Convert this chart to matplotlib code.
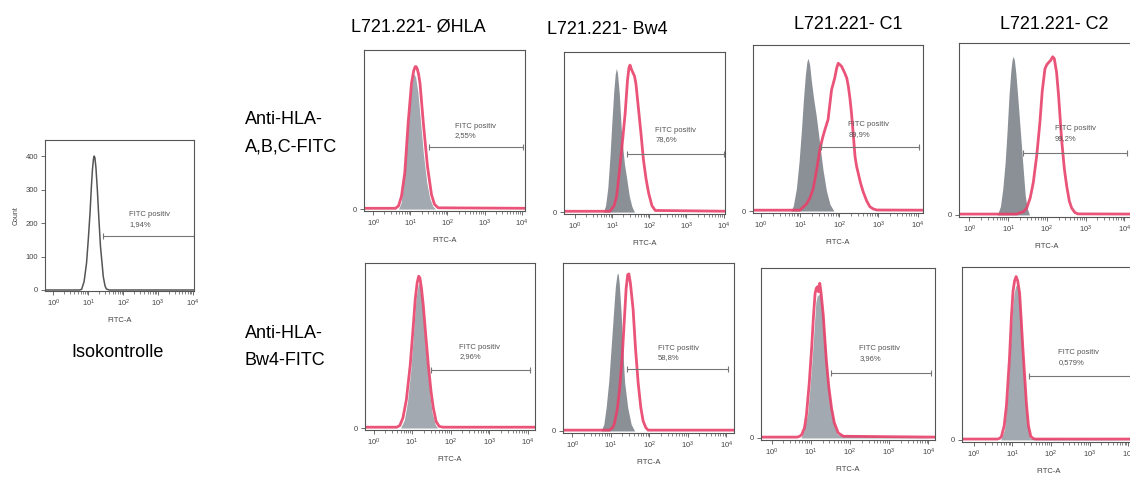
import numpy as np
import matplotlib.pyplot as plt
from matplotlib import font_manager
from matplotlib.ticker import FixedLocator, NullFormatter

# ---- text ----
col_titles = ["L721.221- ØHLA", "L721.221- Bw4", "L721.221- C1", "L721.221- C2"]
row_labels = [["Anti-HLA-", "A,B,C-FITC"], ["Anti-HLA-", "Bw4-FITC"]]
iso_title = "Isokontrolle"
gate_text = "FITC positiv"
gate_pcts = [["2,55%", "78,6%", "89,9%", "99,2%"],
             ["2,96%", "58,8%", "3,96%", "0,579%"]]

# ---- isotype control histogram (log10 FITC, count) ----
iso_log = [-0.3, 0.75, 0.81, 0.88, 0.95, 1.0, 1.05, 1.09, 1.12, 1.15, 1.17, 1.19, 1.22,
           1.26, 1.3, 1.35, 1.43, 1.48, 1.52, 1.6, 4.1]
iso_cnt = [0, 0, 2, 25, 80, 150, 229, 310, 360, 392, 400, 395, 365,
           300, 220, 130, 40, 12, 3, 0, 0]
iso_gate = (1.43, 4.02, 161)
iso_ticks = [0, 100, 200, 300, 400]

# ---- stained panels: grey = unstained control, red = antibody (% of scale) ----
grey_log = [
    [[-0.3, 0.68, 0.75, 0.81, 0.88, 0.95, 1.02, 1.07, 1.1, 1.14, 1.2, 1.27, 1.35, 1.44, 1.52, 1.6, 1.68, 4.2],
     [-0.3, 0.76, 0.82, 0.88, 0.94, 0.99, 1.04, 1.08, 1.11, 1.14, 1.19, 1.26, 1.33, 1.39, 1.46, 1.53, 1.6, 4.2],
     [-0.3, 0.76, 0.82, 0.9, 0.97, 1.03, 1.08, 1.13, 1.17, 1.2, 1.24, 1.28, 1.34, 1.41, 1.5, 1.58, 1.67,
      1.76, 1.86, 4.2],
     [-0.3, 0.72, 0.8, 0.86, 0.92, 0.97, 1.02, 1.07, 1.1, 1.13, 1.16, 1.2, 1.25, 1.31, 1.38, 1.44, 1.49,
      1.55, 4.3]],
    [[-0.3, 0.7, 0.8, 0.88, 0.97, 1.05, 1.1, 1.15, 1.18, 1.22, 1.27, 1.33, 1.4, 1.46, 1.52, 1.6, 1.66, 4.2],
     [-0.3, 0.75, 0.82, 0.88, 0.95, 1.01, 1.07, 1.12, 1.16, 1.19, 1.22, 1.27, 1.32, 1.36, 1.44, 1.53, 1.62, 4.2],
     [-0.3, 0.75, 0.82, 0.92, 0.98, 1.04, 1.09, 1.13, 1.17, 1.2, 1.24, 1.28, 1.33, 1.38, 1.42, 1.48, 1.55,
      1.62, 1.68, 4.2],
     [-0.3, 0.7, 0.8, 0.88, 0.96, 1.01, 1.05, 1.09, 1.12, 1.16, 1.2, 1.26, 1.31, 1.35, 1.4, 1.46, 4.3]],
]
grey_cnt = [
    [[0, 0, 4, 15, 32, 55, 75, 83, 85, 83, 74, 56, 35, 17, 7, 2, 0, 0],
     [0, 0, 4, 15, 35, 56, 75, 86, 89.7, 87, 74, 45.5, 30, 21, 10, 3.5, 0, 0],
     [0, 0, 3, 13.5, 30, 49, 67, 82, 90, 92, 88, 79, 68, 57, 40, 25, 12, 4, 0, 0],
     [0, 0, 5, 15, 30, 48, 69, 84, 90, 92.3, 90, 82, 68, 50, 29, 11.5, 4, 0, 0]],
    [[0, 0, 5, 16, 36, 62, 78, 86, 88, 84, 72, 52, 35, 20, 9, 2, 0, 0],
     [0, 0, 4, 14, 30, 50, 70, 86, 93, 94, 88, 70, 45, 29, 14, 4, 0, 0],
     [0, 0, 4, 14, 30, 48, 66, 80, 84, 84, 86, 80, 68, 54, 41, 26, 15, 6, 2, 0],
     [0, 0, 6, 25, 58, 76, 85, 89, 90, 87, 80, 55, 36, 20, 8, 1, 0]],
]
red_log = [
    [[-0.3, 0.6, 0.68, 0.76, 0.85, 0.94, 1.03, 1.09, 1.13, 1.15, 1.18, 1.22, 1.26, 1.35, 1.46, 1.57, 1.65,
      1.75, 4.2],
     [-0.3, 0.94, 1.05, 1.12, 1.21, 1.28, 1.35, 1.41, 1.45, 1.48, 1.52, 1.56, 1.6, 1.64, 1.71, 1.78, 1.84,
      1.91, 1.98, 2.07, 2.16, 4.2],
     [-0.3, 0.99, 1.15, 1.25, 1.33, 1.42, 1.5, 1.57, 1.63, 1.67, 1.71, 1.76, 1.8, 1.88, 1.93, 1.97, 2.02,
      2.06, 2.14, 2.19, 2.23, 2.27, 2.31, 2.36, 2.4, 2.44, 2.48, 2.54, 2.61, 2.7, 2.78, 2.87, 2.96, 4.2],
     [-0.3, 1.22, 1.4, 1.48, 1.57, 1.65, 1.74, 1.82, 1.88, 1.95, 2.0, 2.04, 2.1, 2.15, 2.19, 2.22, 2.25,
      2.3, 2.38, 2.45, 2.51, 2.58, 2.64, 2.72, 2.8, 4.3]],
    [[-0.3, 0.6, 0.68, 0.76, 0.85, 0.95, 1.03, 1.08, 1.13, 1.17, 1.2, 1.24, 1.29, 1.35, 1.42, 1.49, 1.55,
      1.62, 1.7, 1.8, 4.2],
     [-0.3, 0.97, 1.05, 1.1, 1.17, 1.23, 1.3, 1.36, 1.4, 1.44, 1.47, 1.51, 1.58, 1.64, 1.71, 1.78, 1.84,
      1.91, 1.97, 4.2],
     [-0.3, 0.65, 0.72, 0.77, 0.84, 0.89, 0.96, 1.02, 1.07, 1.11, 1.14, 1.17, 1.2, 1.23, 1.26, 1.32, 1.36,
      1.4, 1.46, 1.53, 1.6, 1.7, 1.83, 4.2],
     [-0.3, 0.62, 0.68, 0.72, 0.79, 0.85, 0.93, 0.98, 1.02, 1.06, 1.1, 1.14, 1.19, 1.23, 1.27, 1.32, 1.37,
      1.42, 1.48, 1.55, 1.6, 4.3]],
]
red_cnt = [
    [[0.5, 0.5, 2, 8, 23, 54, 79, 87, 89.5, 89.6, 88.5, 85, 79, 54, 27, 9, 3, 0.8, 0.5],
     [0.5, 0.5, 4, 10, 29, 45, 62, 82, 90, 91.8, 89, 87, 85, 80, 64, 48, 33, 21, 12, 4, 1, 0.5],
     [0.5, 0.5, 4, 8, 13.5, 25, 37, 44, 49, 52, 55, 65, 73, 80, 86, 89, 88, 87, 83, 80, 75, 68, 59, 45,
      33, 27, 23, 17, 11.5, 6, 2.6, 1.2, 0.6, 0.5],
     [0.5, 0.5, 2, 4, 10, 19, 35, 54, 72, 85, 87.5, 88.5, 90, 92, 91, 87, 83, 70, 44, 27, 17, 8, 4, 1.5,
      0.6, 0.5]],
    [[0.5, 0.5, 1.5, 6, 17, 38, 62, 78, 88, 92, 91, 85, 74, 57, 38, 22, 12, 4, 1, 0.5, 0.5],
     [0.5, 0.5, 2, 5, 13, 25, 45, 69, 85, 93, 93.5, 88, 72.5, 50, 29, 14, 6, 2, 0.5, 0.5],
     [0.5, 0.5, 1, 2, 6, 13.6, 32, 52, 72, 85, 88, 89, 86, 91, 86, 72, 58, 45, 30, 17.5, 9, 3, 1, 0.5],
     [0.5, 0.5, 1, 2, 8, 20, 48, 72, 86, 92, 94.5, 92, 85, 70, 54.5, 37, 20, 8, 2, 0.7, 0.5, 0.5]],
]
# gate marker: start, end (log10), height, label x, label heights
gates = [
    [(1.51, 4.03, 39, 2.2, 52, 46), (1.39, 4.02, 36, 2.16, 51, 45.6),
     (1.52, 4.03, 38.4, 2.23, 52, 46), (1.39, 4.06, 36, 2.21, 50, 44.6)],
    [(1.49, 4.06, 35, 2.22, 49, 43.4), (1.42, 4.05, 37, 2.22, 49, 44),
     (1.51, 4.08, 38, 2.24, 52.4, 46.6), (1.42, 4.1, 37, 2.19, 50.5, 45)],
]
overlap = [[True, False, False, False], [True, False, True, True]]

# ---- layout in pixels: left, right, top, bottom ----
W, H = 1130, 479
iso_box = (45, 194, 140, 291)
boxes = [[(364, 525, 50, 211), (564, 725, 52, 214), (753, 923, 45, 213), (959, 1134, 43, 217)],
         [(365, 535, 263, 430), (563, 734, 263, 433), (761, 935, 268, 440), (962, 1136, 267, 442)]]
xlims = [[(-0.25, 4.09), (-0.3, 4.04), (-0.21, 4.14), (-0.27, 4.25)],
         [(-0.22, 4.18), (-0.24, 4.2), (-0.27, 4.17), (-0.3, 4.2)]]
title_pos = [(418, 32), (607, 34), (848, 29), (1054, 29)]
row_pos = [(245, 124, 152), (245, 338, 365)]

names = {f.name for f in font_manager.fontManager.ttflist}
if "Liberation Sans Narrow" in names:
    big_font, big_size = "Liberation Sans Narrow", 15
else:
    big_font, big_size = "Liberation Sans", 13
plt.rcParams['font.family'] = ['Liberation Sans', 'DejaVu Sans']
plt.rcParams['mathtext.fontset'] = 'custom'
plt.rcParams['mathtext.rm'] = 'Liberation Sans'
plt.rcParams['mathtext.default'] = 'regular'

RED = '#e8416a'
GREY_DARK = '#8b9097'
GREY_LIGHT = '#a3a9b1'
FRAME = '#555555'
SMALL = 5.5

fig = plt.figure(figsize=(W / 100, H / 100), dpi=100)
fig.patch.set_facecolor('white')


def px_axes(box):
    l, r, t, b = box
    return fig.add_axes([l / W, 1 - b / H, (r - l) / W, (b - t) / H])


def fig_text(x, y, s, **kw):
    fig.text(x / W, 1 - y / H, s, **kw)


def style(ax, xlim, ylim, yticks):
    ax.set_xscale('log')
    ax.set_xlim(10 ** xlim[0], 10 ** xlim[1])
    ax.set_ylim(*ylim)
    for sp in ax.spines.values():
        sp.set_color(FRAME)
        sp.set_linewidth(0.8)
    ax.xaxis.set_major_locator(FixedLocator([1, 10, 100, 1000, 10000]))
    ax.xaxis.set_minor_locator(FixedLocator([m * 10 ** d for d in range(4) for m in range(2, 10)]))
    ax.xaxis.set_minor_formatter(NullFormatter())
    ax.set_xticklabels([r'$10^{%d}$' % d for d in range(5)])
    ax.set_yticks(yticks)
    ax.tick_params(axis='both', which='major', length=3, width=0.6, color=FRAME,
                   labelsize=SMALL, labelcolor='#444444', pad=2)
    ax.tick_params(axis='x', which='minor', length=1.8, width=0.5, color=FRAME)
    ax.annotate('FITC-A', xy=(0.5, 0), xycoords='axes fraction', xytext=(0, -21),
                textcoords='offset points', ha='center', va='center',
                fontsize=SMALL, color='#444444')


def gate(ax, x0, x1, y, tx, ty1, ty2, lbl):
    ax.plot([10 ** x0, 10 ** x1], [y, y], color='#777777', lw=0.8,
            marker='|', markersize=5, markeredgewidth=0.8)
    ax.text(10 ** tx, ty1, gate_text, fontsize=SMALL, color='#555555', va='center')
    ax.text(10 ** tx, ty2, lbl, fontsize=SMALL, color='#555555', va='center')


# isotype control
ax = px_axes(iso_box)
style(ax, (-0.24, 4.03), (-3, 448), iso_ticks)
ax.plot(10 ** np.array(iso_log), iso_cnt, color='#555555', lw=1.1)
ax.set_ylabel('Count', fontsize=5, color='#444444', labelpad=4)
gate(ax, *iso_gate, 2.17, 224, 196, "1,94%")
fig_text(118, 357, iso_title, fontsize=big_size, family=big_font, ha='center', va='baseline')

for r in range(2):
    for c in range(4):
        ax = px_axes(boxes[r][c])
        style(ax, xlims[r][c], (-1.2, 100), [0])
        ax.set_yticklabels(['0'])
        gx = 10 ** np.array(grey_log[r][c])
        ax.fill_between(gx, grey_cnt[r][c], 0, color=GREY_LIGHT if overlap[r][c] else GREY_DARK,
                        lw=0)
        ax.plot(10 ** np.array(red_log[r][c]), red_cnt[r][c], color=RED, lw=2, alpha=0.9)
        g = gates[r][c]
        gate(ax, g[0], g[1], g[2], g[3], g[4], g[5], gate_pcts[r][c])

for (x, y), t in zip(title_pos, col_titles):
    fig_text(x, y, t, fontsize=big_size, family=big_font, ha='center', va='baseline')

for (x, y1, y2), lines in zip(row_pos, row_labels):
    fig_text(x, y1, lines[0], fontsize=big_size, family=big_font, ha='left', va='baseline')
    fig_text(x, y2, lines[1], fontsize=big_size, family=big_font, ha='left', va='baseline')

fig.savefig('out.png', dpi=100, facecolor='white')
